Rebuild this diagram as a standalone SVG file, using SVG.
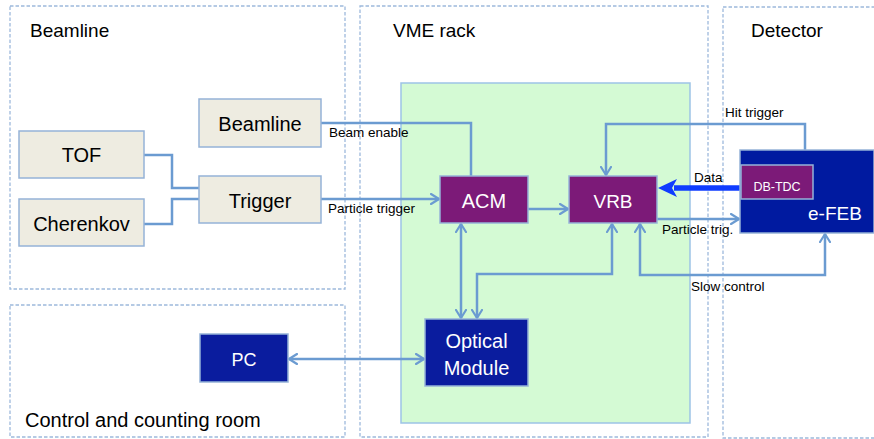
<svg xmlns="http://www.w3.org/2000/svg" width="874" height="439" viewBox="0 0 874 439">
  <style>
    text { font-family: "Liberation Sans", Arial, sans-serif; fill: #000; }
    .region { fill: none; stroke: #9db9dc; stroke-width: 1.3; stroke-dasharray: 3.5 2; }
    .title { font-size: 19px; }
    .grey { fill: #eeece1; stroke: #95b3d7; stroke-width: 1.5; }
    .purple { fill: #7c1a78; stroke: #95b3d7; stroke-width: 1.5; }
    .navy { fill: #0a1c9e; stroke: #95b3d7; stroke-width: 1.5; }
    .lbl { font-size: 20px; text-anchor: middle; }
    .wlbl { font-size: 20px; text-anchor: middle; fill: #fff; }
    .conn { fill: none; stroke: #6b9bd1; stroke-width: 2.5; stroke-linejoin: miter; }
    .clabel { font-size: 13.5px; }
  </style>
  <defs>
    <marker id="chev" viewBox="0 0 10 12" refX="9" refY="6" markerWidth="10" markerHeight="12" markerUnits="userSpaceOnUse" orient="auto-start-reverse">
      <path d="M1,1 L9,6 L1,11" fill="none" stroke="#6b9bd1" stroke-width="2.2" stroke-linecap="round" stroke-linejoin="round"/>
    </marker>
  </defs>

  <!-- location regions -->
  <g id="regions">
    <rect class="region" x="10" y="6" width="335" height="283"/>
    <rect class="region" x="10" y="305" width="335" height="132"/>
    <rect class="region" x="360" y="6" width="348" height="431"/>
    <rect class="region" x="723" y="7" width="160" height="431"/>
    <text class="title" x="30" y="37">Beamline</text>
    <text class="title" x="393" y="37">VME rack</text>
    <text class="title" x="751" y="37">Detector</text>
    <text x="25" y="427" style="font-size:20px">Control and counting room</text>
  </g>

  <!-- VME crate backplane -->
  <rect id="crate" x="401" y="83" width="289" height="340" fill="#d4fad4" stroke="#9dc3e6" stroke-width="1.5"/>

  <!-- connectors -->
  <g id="connectors">
    <path class="conn" d="M144,155 H172 V188 H199"/>
    <path class="conn" d="M144,224 H172 V199 H199"/>
    <path class="conn" d="M321,123 H471 V176"/>
    <path class="conn" d="M321,199 H439" marker-end="url(#chev)"/>
    <path class="conn" d="M528,209 H568" marker-end="url(#chev)"/>
    <path class="conn" d="M805,150 V124 H606 V175" marker-end="url(#chev)"/>
    <path class="conn" d="M657,219 H739" marker-end="url(#chev)"/>
    <path class="conn" d="M640,224 V275 H825 V234" marker-start="url(#chev)" marker-end="url(#chev)"/>
    <path class="conn" d="M461,224 V318" marker-start="url(#chev)" marker-end="url(#chev)"/>
    <path class="conn" d="M612,224 V274 H477 V318" marker-start="url(#chev)" marker-end="url(#chev)"/>
    <path class="conn" d="M289,359 H424" marker-start="url(#chev)" marker-end="url(#chev)"/>
    <!-- data path -->
    <path d="M741,188 H674" fill="none" stroke="#0f3cff" stroke-width="5.5"/>
    <path d="M658,188 L677,179 L672,188 L677,197 Z" fill="#0f3cff"/>
    <text class="clabel" x="329" y="137">Beam enable</text>
    <text class="clabel" x="328" y="213">Particle trigger</text>
    <text class="clabel" x="725" y="117">Hit trigger</text>
    <text class="clabel" x="694" y="182">Data</text>
    <text class="clabel" x="662" y="234">Particle trig.</text>
    <text class="clabel" x="691" y="291">Slow control</text>
  </g>

  <!-- beamline nodes -->
  <g id="tof">
    <rect class="grey" x="19" y="131" width="125" height="47"/>
    <text class="lbl" x="81.5" y="162">TOF</text>
  </g>
  <g id="cherenkov">
    <rect class="grey" x="19" y="199" width="125" height="47"/>
    <text class="lbl" x="81.5" y="231">Cherenkov</text>
  </g>
  <g id="beamline">
    <rect class="grey" x="199" y="99" width="122" height="48"/>
    <text class="lbl" x="260" y="131">Beamline</text>
  </g>
  <g id="trigger">
    <rect class="grey" x="199" y="176" width="122" height="47"/>
    <text class="lbl" x="260" y="208">Trigger</text>
  </g>

  <!-- VME rack nodes -->
  <g id="acm">
    <rect class="purple" x="440" y="176" width="88" height="47"/>
    <text class="wlbl" x="484" y="208">ACM</text>
  </g>
  <g id="vrb">
    <rect class="purple" x="569" y="176" width="88" height="47"/>
    <text class="wlbl" x="613" y="208" style="font-size:19px">VRB</text>
  </g>
  <g id="optical-module">
    <rect class="navy" x="425" y="319" width="103" height="67"/>
    <text class="wlbl" x="476.5" y="348">Optical</text>
    <text class="wlbl" x="476.5" y="375">Module</text>
  </g>

  <!-- counting room node -->
  <g id="pc">
    <rect class="navy" x="200" y="334" width="88" height="48"/>
    <text class="wlbl" x="244" y="366" style="font-size:18px">PC</text>
  </g>

  <!-- detector front-end -->
  <g id="efeb">
    <rect fill="#001aa0" stroke="#95b3d7" stroke-width="1.5" x="740" y="150" width="134" height="83"/>
    <text x="808" y="220" style="font-size:19px;fill:#fff">e-FEB</text>
  </g>
  <g id="db-tdc">
    <rect class="purple" x="741" y="165" width="72" height="34"/>
    <text x="777" y="191" style="font-size:12.5px;fill:#fff;text-anchor:middle">DB-TDC</text>
  </g>
</svg>
